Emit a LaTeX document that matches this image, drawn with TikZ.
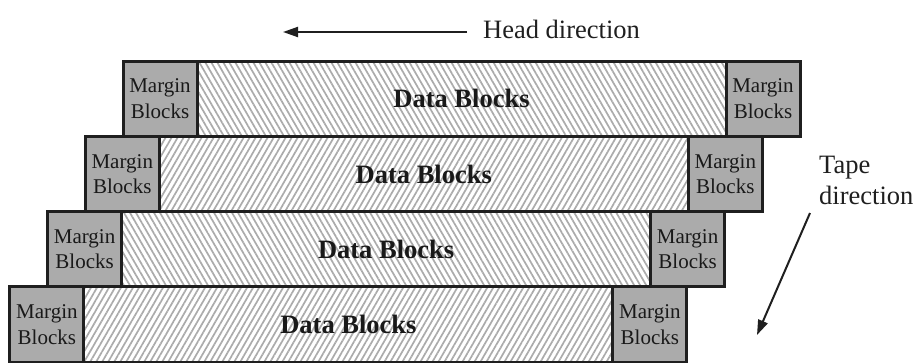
\documentclass[tikz,border=0pt]{standalone}
\usepackage{fontspec}
\setmainfont{Liberation Serif}
\usepackage{tikz}
\usetikzlibrary{arrows.meta, positioning, patterns.meta}

\begin{document}
\begin{tikzpicture}[
    x=1pt, y=-1pt,
    >={Triangle[length=15pt, width=10pt]},
    margin/.style={draw=black!88, line width=3pt, fill=black!33, outer sep=0pt, inner sep=0pt,
        minimum width=74pt, minimum height=75.3pt, align=center,
        font=\fontsize{21}{25.5}\selectfont, text=black!90},
    data/.style={draw=black!88, line width=3pt, outer sep=0pt, inner sep=0pt,
        minimum width=529pt, minimum height=75.3pt, pattern color=black!33,
        font=\fontsize{26.5}{30}\selectfont\bfseries, text=black!90},
    pointer/.style={->, line width=2pt, black!88},
    dirtext/.style={font=\fontsize{26.5}{31}\selectfont, inner sep=0pt, align=left, text=black!88}
]
\useasboundingbox (0,0) rectangle (916,362);

% === tape rows: margin | data | margin ===
\foreach \r/\ang in {0/-60, 1/60, 2/-60, 3/60} {
    \node[margin, anchor=north west] (lm\r) at ({123-37.7*\r}, {61+75.3*\r}) {Margin\\Blocks};
    \node[data, right=0pt of lm\r,
        pattern={Lines[angle=\ang, distance=5.2pt, line width=1.7pt]}] (db\r) {Data Blocks};
    \node[margin, right=0pt of db\r] (rm\r) {Margin\\Blocks};
}

% === head direction ===
\node[dirtext, anchor=base west] (headlbl) at (483, 38) {Head direction};
\coordinate (headtail) at (467, 32);
\coordinate (headtip) at (283, 32);
\draw[pointer] (headtail) -- (headtip);

% === tape direction ===
\node[dirtext, anchor=west] (tapelbl) at (819, 180) {Tape\\direction};
\coordinate (tapetail) at (810, 213);
\coordinate (tapetip) at (757, 335);
\draw[pointer] (tapetail) -- (tapetip);

\end{tikzpicture}
\end{document}
